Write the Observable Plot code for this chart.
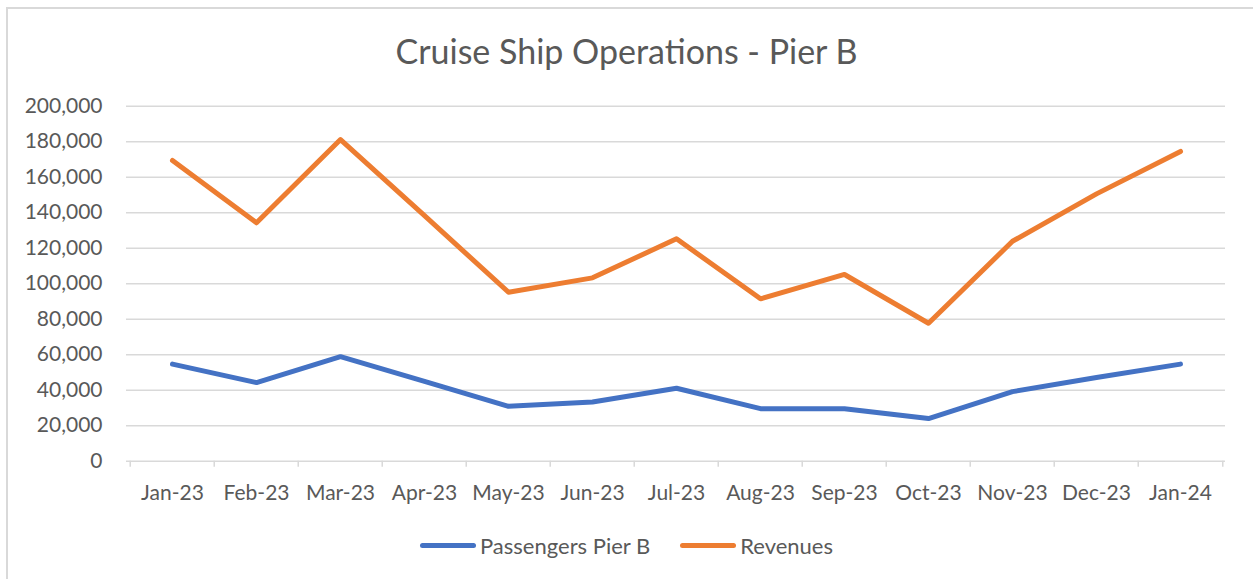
<!DOCTYPE html>
<html>
<head>
<meta charset="utf-8">
<script src="https://cdn.jsdelivr.net/npm/d3@7"></script>
<script src="https://cdn.jsdelivr.net/npm/@observablehq/plot@0.6"></script>
<style>
  html, body { margin: 0; padding: 0; background: #fff; }
  #wrap { position: relative; width: 1253px; height: 579px; overflow: hidden; font-family: Lato, "Open Sans", sans-serif; }
  #frame { position: absolute; left: 6px; top: 7px; width: 1300px; height: 700px; border-left: 2px solid #d9d9d9; border-top: 2px solid #d9d9d9; box-sizing: border-box; }
  #title { position: absolute; left: 0; top: 0; width: 1253px; height: 80px; text-align: center; line-height: 102px; font-size: 34px; color: #595959; }
  #chart { position: absolute; left: 0; top: 80px; }
  #legend { position: absolute; left: 0; top: 520px; width: 1253px; height: 50px; display: flex; justify-content: center; align-items: center; font-size: 22px; color: #595959; }
  .item { display: flex; align-items: center; margin: 0 15px; }
  .sw { display: inline-block; width: 56px; height: 5px; border-radius: 3px; margin-right: 4px; }
</style>
</head>
<body>
<div id="wrap">
  <div id="frame"></div>
  <div id="title">Cruise Ship Operations - Pier B</div>
  <div id="chart"></div>
  <div id="legend"></div>
</div>
<script>
const months = ["Jan-23","Feb-23","Mar-23","Apr-23","May-23","Jun-23","Jul-23","Aug-23","Sep-23","Oct-23","Nov-23","Dec-23","Jan-24"];
const passengers = [54700, 44300, 58900, 45000, 30900, 33400, 41100, 29600, 29600, 24000, 39200, 47200, 54700];
const revenues = [169400, 134300, 181200, 138300, 95200, 103300, 125300, 91500, 105200, 77700, 123900, 150600, 174500];
const yTicks = [0, 20000, 40000, 60000, 80000, 100000, 120000, 140000, 160000, 180000, 200000];
const seriesNames = ["Passengers Pier B", "Revenues"];
const seriesColors = ["#4472C4", "#ED7D31"];

const rows = [];
months.forEach((m, i) => {
  rows.push({month: m, series: seriesNames[0], value: passengers[i]});
  rows.push({month: m, series: seriesNames[1], value: revenues[i]});
});

const W = 1253, H = 440;
const mL = 126, mR = 28;
const step = (W - mL - mR) / months.length;
const fmt = d3.format(",");

const chart = Plot.plot({
  width: W,
  height: H,
  marginLeft: mL,
  marginRight: mR,
  marginTop: 25.7,
  marginBottom: 59.3,
  style: {fontFamily: "Lato, 'Open Sans', sans-serif", fontSize: "21px", color: "#595959", background: "transparent"},
  x: {type: "point", domain: months, padding: 0.5, label: null},
  y: {domain: [0, 200000], label: null},
  color: {domain: seriesNames, range: seriesColors},
  marks: [
    Plot.gridY(yTicks, {stroke: "#d9d9d9", strokeOpacity: 1, strokeWidth: 1.5}),
    Plot.axisY(yTicks, {tickSize: 0, tickPadding: 24, tickFormat: fmt, fill: "#595959", fontSize: 21, label: null}),
    Plot.axisX(months, {tickSize: 6, text: null, dx: -step / 2, stroke: "#d9d9d9", strokeWidth: 1.5}),
    Plot.axisX([months[months.length - 1]], {tickSize: 6, text: null, dx: step / 2, stroke: "#d9d9d9", strokeWidth: 1.5}),
    Plot.axisX(months, {tickSize: 0, tickPadding: 24, fill: "#595959", fontSize: 21, label: null}),
    Plot.line(rows, {x: "month", y: "value", z: "series", stroke: "series", strokeWidth: 5, strokeLinecap: "round", strokeLinejoin: "round"})
  ]
});
document.getElementById("chart").appendChild(chart);

const legend = document.getElementById("legend");
seriesNames.forEach((name, i) => {
  const it = document.createElement("div");
  it.className = "item";
  const sw = document.createElement("span");
  sw.className = "sw";
  sw.style.background = seriesColors[i];
  const t = document.createElement("span");
  t.textContent = name;
  it.appendChild(sw);
  it.appendChild(t);
  legend.appendChild(it);
});
</script>
</body>
</html>
